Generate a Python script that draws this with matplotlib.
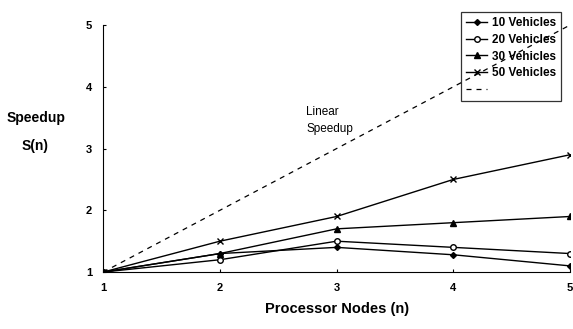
import matplotlib
matplotlib.use("Agg")
import matplotlib.pyplot as plt

nodes = [1, 2, 3, 4, 5]
v10 = [1.0, 1.3, 1.4, 1.28, 1.1]
v20 = [1.0, 1.2, 1.5, 1.4, 1.3]
v30 = [1.0, 1.3, 1.7, 1.8, 1.9]
v50 = [1.0, 1.5, 1.9, 2.5, 2.9]
linear = [1, 2, 3, 4, 5]

plt.rcParams['font.family'] = ['Liberation Sans', 'DejaVu Sans']
plt.rcParams['font.weight'] = 'bold'

fig = plt.figure(figsize=(5.73, 3.29), dpi=100)
ax = fig.add_axes([0.18, 0.173, 0.815, 0.751])

ax.plot(nodes, v10, color='black', lw=1.0, marker='D', ms=3, label='10 Vehicles')
ax.plot(nodes, v20, color='black', lw=1.0, marker='o', ms=4, mfc='white', label='20 Vehicles')
ax.plot(nodes, v30, color='black', lw=1.0, marker='^', ms=4, label='30 Vehicles')
ax.plot(nodes, v50, color='black', lw=1.0, marker='x', ms=4, label='50 Vehicles')
ax.plot(nodes, linear, color='black', lw=0.9, ls=(0, (4, 4)), label=' ')

ax.text(2.74, 3.45, 'Linear\nSpeedup', fontsize=8.5, fontweight='normal', ha='left', va='center', linespacing=1.6)

ax.set_xlim(1, 5)
ax.set_ylim(1, 5)
ax.set_xticks(nodes)
ax.set_yticks([1, 2, 3, 4, 5])
ax.tick_params(axis='both', labelsize=8, length=2, direction='in', pad=8)
for s in ['top', 'right']:
    ax.spines[s].set_visible(False)
ax.set_xlabel('Processor Nodes (n)', fontsize=10.5, fontweight='bold', labelpad=6)
fig.text(0.062, 0.64, 'Speedup', fontsize=10, fontweight='bold', ha='center', va='center')
fig.text(0.062, 0.555, 'S(n)', fontsize=10, fontweight='bold', ha='center', va='center')

leg = ax.legend(loc='upper right', bbox_to_anchor=(0.993, 1.075), fontsize=8.5, frameon=True,
                facecolor='none', edgecolor='black', fancybox=False, handlelength=1.8,
                handletextpad=0.4, labelspacing=0.4, borderpad=0.4)
leg.get_frame().set_linewidth(0.9)
for t in leg.get_texts():
    t.set_fontweight('bold')

fig.savefig('out.png', dpi=100)
